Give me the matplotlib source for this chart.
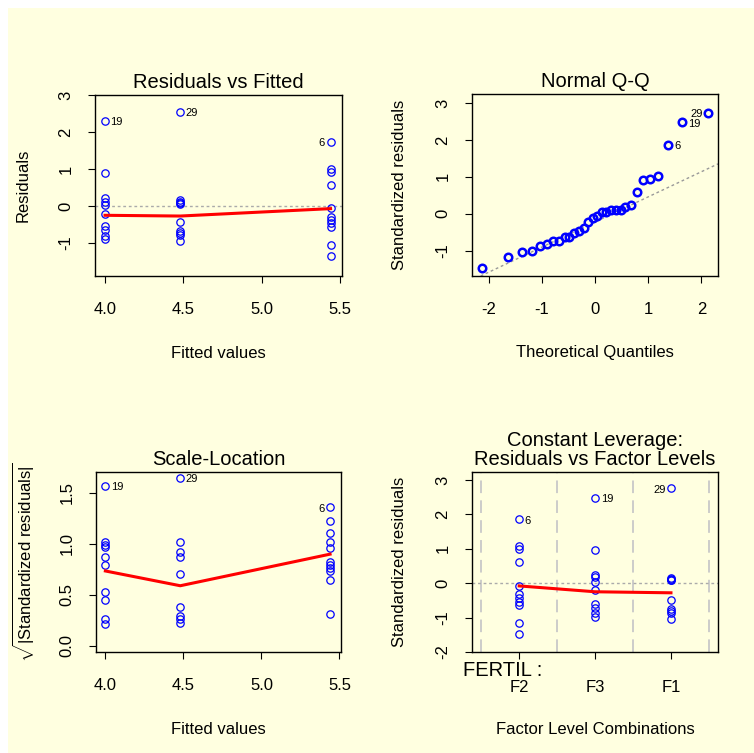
import matplotlib
matplotlib.use('Agg')
import matplotlib.pyplot as plt
from matplotlib.patches import Rectangle

plt.rcParams['font.family'] = ['Liberation Sans', 'DejaVu Sans']
plt.rcParams['mathtext.fontset'] = 'custom'
plt.rcParams['mathtext.rm'] = 'Liberation Sans'
plt.rcParams['mathtext.it'] = 'Liberation Sans:italic'
plt.rcParams['axes.unicode_minus'] = False

BG = '#ffffe0'
PT_BLUE = '#0000ff'

# fitted value of each FERTIL level (F2, F3, F1)
levels = ['F2', 'F3', 'F1']
fitted_vals = [5.44, 4.00, 4.48]

# raw residuals per level
resid_F2 = [1.73, 0.99, 0.92, 0.57, -0.06, -0.29, -0.38, -0.47, -0.56, -1.06, -1.35]
resid_F3 = [2.30, 0.90, 0.23, 0.12, 0.02, -0.22, -0.55, -0.65, -0.80, -0.90]
resid_F1 = [2.55, 0.15, 0.11, 0.08, 0.06, -0.43, -0.67, -0.73, -0.78, -0.94]

# sqrt(|standardized residuals|) per level
sqrt_F2 = [1.36, 1.23, 1.105, 1.02, 0.96, 0.82, 0.79, 0.76, 0.73, 0.65, 0.31]
sqrt_F3 = [1.57, 1.02, 0.99, 0.97, 0.875, 0.79, 0.525, 0.45, 0.26, 0.215]
sqrt_F1 = [1.65, 1.02, 0.92, 0.875, 0.706, 0.38, 0.29, 0.26, 0.22]

# standardized residuals per level
std_F2 = [1.85, 1.08, 0.99, 0.62, -0.07, -0.32, -0.42, -0.54, -0.64, -1.17, -1.48]
std_F3 = [2.48, 0.96, 0.25, 0.17, 0.04, -0.20, -0.61, -0.71, -0.86, -0.97]
std_F1 = [2.76, 0.14, 0.12, 0.10, 0.09, -0.48, -0.74, -0.80, -0.86, -1.03]

# normal Q-Q: theoretical quantiles and sorted standardized residuals
qq_theory = [-2.13, -1.64, -1.38, -1.19, -1.04, -0.90, -0.78, -0.67, -0.57, -0.48,
             -0.39, -0.30, -0.21, -0.13, -0.04, 0.04, 0.13, 0.21, 0.30, 0.39,
             0.48, 0.57, 0.67, 0.78, 0.90, 1.04, 1.19, 1.38, 1.64, 2.13]
qq_sample = [-1.47, -1.17, -1.03, -1.00, -0.88, -0.81, -0.73, -0.74, -0.63, -0.63,
             -0.52, -0.45, -0.37, -0.23, -0.11, -0.07, 0.06, 0.06, 0.10, 0.10,
             0.10, 0.18, 0.24, 0.60, 0.92, 0.95, 1.02, 1.86, 2.48, 2.73]
qq_line = (-0.22, 0.68)  # intercept, slope

# smoother lines
smooth_x = [4.00, 4.48, 5.44]
smooth_resid = [-0.25, -0.27, -0.07]
smooth_scale = [0.735, 0.59, 0.90]
smooth_level = [-0.08, -0.25, -0.28]

fig = plt.figure(figsize=(7.54, 7.53), dpi=100, facecolor='white')
fig.patches.append(Rectangle((8 / 754, 0), 1, 1 - 8 / 753, transform=fig.transFigure,
                             facecolor=BG, edgecolor='none', zorder=-10))

W, H = 754.0, 753.0


def make_axes(left, top, right, bottom):
    ax = fig.add_axes([left / W, 1 - bottom / H, (right - left) / W, (bottom - top) / H])
    ax.set_facecolor(BG)
    for s in ax.spines.values():
        s.set_linewidth(1.0)
        s.set_color('black')
    ax.tick_params(axis='both', direction='out', length=5, width=0.8, labelsize=12)
    ax.tick_params(axis='x', pad=13.5)
    ax.tick_params(axis='y', pad=10.5, labelrotation=90)
    return ax


def finish(ax, title, xlabel, ylabel, w, h):
    ax.set_title(title, fontsize=14.5, pad=5)
    ax.set_xlabel(xlabel, fontsize=12, va='center')
    ax.xaxis.set_label_coords(0.5, -77 / h)
    ax.set_ylabel(ylabel, fontsize=12, va='center')
    ax.yaxis.set_label_coords(-72 / w, 0.5)
    for lab in ax.get_yticklabels():
        lab.set_va('center')


def open_pts(ax, x, y, ms=5.3, mew=0.9):
    ax.plot(x, y, 'o', mfc='none', mec=PT_BLUE, ms=ms, mew=mew, zorder=3)


def tag(ax, x, y, text, side='right'):
    dx = 4 if side == 'right' else -4
    ax.annotate(text, (x, y), xytext=(dx, -1), textcoords='offset points',
                ha='left' if side == 'right' else 'right', va='center', fontsize=8)


# Residuals vs Fitted
ax1 = make_axes(95, 95, 342, 276)
ax1.axhline(0, color='#aaaaaa', lw=1, ls=(0, (2, 2)), zorder=1)
for fv, r in zip(fitted_vals, [resid_F2, resid_F3, resid_F1]):
    open_pts(ax1, [fv] * len(r), r)
ax1.plot(smooth_x, smooth_resid, color='red', lw=2.2, zorder=4)
tag(ax1, fitted_vals[1], resid_F3[0], '19')
tag(ax1, fitted_vals[2], resid_F1[0], '29')
tag(ax1, fitted_vals[0], resid_F2[0], '6', side='left')
ax1.set_xlim(3.936, 5.513)
ax1.set_ylim(-1.89, 3.0)
ax1.set_xticks([4.0, 4.5, 5.0, 5.5])
ax1.set_xticklabels(['4.0', '4.5', '5.0', '5.5'])
ax1.set_yticks([-1, 0, 1, 2, 3])
finish(ax1, 'Residuals vs Fitted', 'Fitted values', 'Residuals', 247, 181)

# Normal Q-Q
ax2 = make_axes(472, 94, 718, 276)
ax2.axline((0, qq_line[0]), slope=qq_line[1], color='#999999', lw=1, ls=(0, (2, 2)), zorder=1)
open_pts(ax2, qq_theory, qq_sample, ms=5.4, mew=1.8)
tag(ax2, qq_theory[-1], qq_sample[-1], '29', side='left')
tag(ax2, qq_theory[-2], qq_sample[-2], '19')
tag(ax2, qq_theory[-3], qq_sample[-3], '6')
ax2.set_xlim(-2.31, 2.31)
ax2.set_ylim(-1.68, 3.24)
ax2.set_xticks([-2, -1, 0, 1, 2])
ax2.set_yticks([-1, 0, 1, 2, 3])
finish(ax2, 'Normal Q-Q', 'Theoretical Quantiles', 'Standardized residuals', 246, 182)

# Scale-Location
ax3 = make_axes(96, 472, 341, 652)
for fv, r in zip(fitted_vals, [sqrt_F2, sqrt_F3, sqrt_F1]):
    open_pts(ax3, [fv] * len(r), r)
ax3.plot(smooth_x, smooth_scale, color='red', lw=2.2, zorder=4)
tag(ax3, fitted_vals[1], sqrt_F3[0], '19')
tag(ax3, fitted_vals[2], sqrt_F1[0], '29')
tag(ax3, fitted_vals[0], sqrt_F2[0], '6', side='left')
ax3.set_xlim(3.94, 5.51)
ax3.set_ylim(-0.06, 1.706)
ax3.set_xticks([4.0, 4.5, 5.0, 5.5])
ax3.set_xticklabels(['4.0', '4.5', '5.0', '5.5'])
ax3.set_yticks([0.0, 0.5, 1.0, 1.5])
ax3.set_yticklabels(['0.0', '0.5', '1.0', '1.5'])
finish(ax3, 'Scale-Location', 'Fitted values',
       r'$\sqrt{|\mathrm{Standardized\ residuals}|}$', 245, 180)

# Constant Leverage: Residuals vs Factor Levels
ax4 = make_axes(472, 472, 718, 652)
for xv in [0.5, 1.5, 2.5, 3.5]:
    ax4.axvline(xv, color='#c8c8c8', lw=1.3, ls=(0, (7, 4)), zorder=1)
ax4.axhline(0, color='#aaaaaa', lw=1, ls=(0, (2, 2)), zorder=1)
for i, r in enumerate([std_F2, std_F3, std_F1]):
    open_pts(ax4, [i + 1] * len(r), r)
ax4.plot([1, 2, 3], smooth_level, color='red', lw=2.2, zorder=4)
tag(ax4, 1, std_F2[0], '6')
tag(ax4, 2, std_F3[0], '19')
tag(ax4, 3, std_F1[0], '29', side='left')
ax4.set_xlim(0.378, 3.62)
ax4.set_ylim(-2.0, 3.23)
ax4.set_xticks([1, 2, 3])
ax4.set_xticklabels(levels)
ax4.tick_params(axis='x', pad=15)
ax4.set_yticks([-2, -1, 0, 1, 2, 3])
finish(ax4, 'Constant Leverage:\nResiduals vs Factor Levels', 'Factor Level Combinations',
       'Standardized residuals', 246, 180)
ax4.title.set_linespacing(1.0)
fig.text(463 / W, 1 - 676 / H, 'FERTIL :', fontsize=14.5, ha='left', va='baseline')

fig.savefig('out.png', dpi=100, facecolor='white')
